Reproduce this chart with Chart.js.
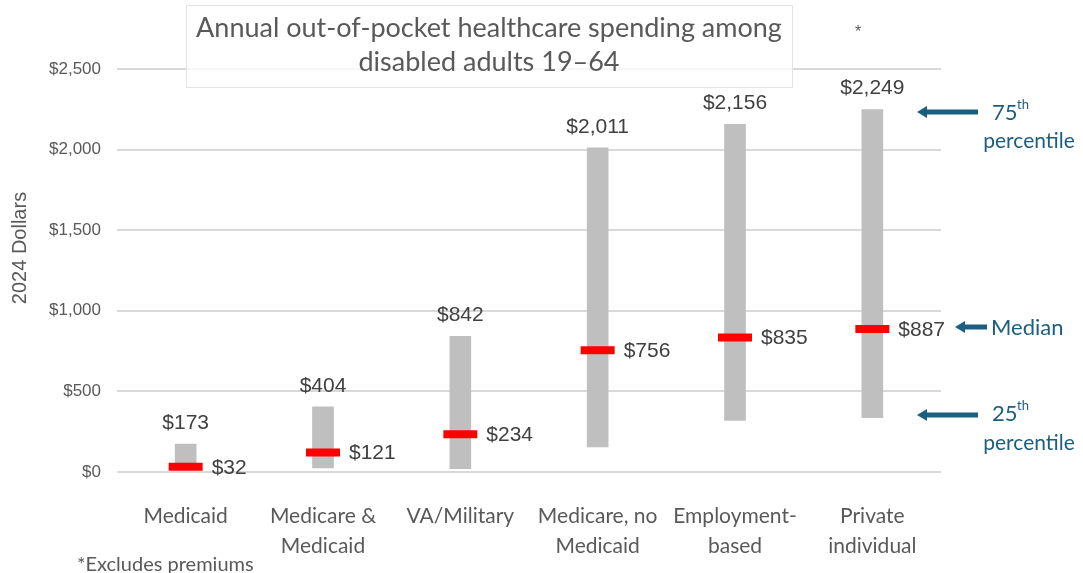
<!DOCTYPE html>
<html>
  <head>
    <title>Out-of-pocket spending</title>
    <script src="https://cdn.jsdelivr.net/npm/chart.js"></script>
    <style>
      html, body { margin: 0; padding: 0; background: #fff; }
      .wrap { width: 1083px; height: 573px; position: relative; }
    </style>
  </head>
  <body>
    <div class="wrap"><canvas id="spendChart" width="1083" height="573"></canvas></div>

    <script>
      const categories = [
        ["Medicaid"],
        ["Medicare &", "Medicaid"],
        ["VA/Military"],
        ["Medicare, no", "Medicaid"],
        ["Employment-", "based"],
        ["Private", "individual"],
      ];
      const p25 = [18, 25, 20, 155, 320, 337];
      const p75 = [173, 404, 842, 2011, 2156, 2249];
      const median = [32, 121, 234, 756, 835, 887];
      const yTicks = [0, 500, 1000, 1500, 2000, 2500];

      const GREY_TEXT = "#595959";
      const DARK_TEXT = "#404040";
      const BLUE = "#1a5f80";
      const money = (v) => "$" + v.toLocaleString("en-US");

      // value labels, title box, axis title and the legend arrows on the right
      const extras = {
        id: "extras",
        afterDraw(chart) {
          const ctx = chart.ctx;
          const y = chart.scales.y;
          const bars = chart.getDatasetMeta(0).data;
          ctx.save();

          ctx.font = "21px 'Liberation Sans', Arial, sans-serif";
          ctx.fillStyle = DARK_TEXT;
          ctx.textBaseline = "middle";
          bars.forEach((bar, i) => {
            ctx.textAlign = "center";
            ctx.fillText(money(p75[i]), bar.x, y.getPixelForValue(p75[i]) - 21);
            ctx.textAlign = "left";
            ctx.fillText(money(median[i]), bar.x + 26, y.getPixelForValue(median[i]) + 1);
          });

          // title box
          ctx.fillStyle = "rgba(255,255,255,0.75)";
          ctx.fillRect(186, 5, 606, 82);
          ctx.strokeStyle = "#e3e3e3";
          ctx.lineWidth = 1;
          ctx.strokeRect(186.5, 5.5, 606, 82);
          ctx.fillStyle = GREY_TEXT;
          ctx.textAlign = "center";
          ctx.font = "27px Lato, sans-serif";
          ctx.fillText("Annual out-of-pocket healthcare spending among", 489, 28);
          ctx.fillText("disabled adults 19\u201364", 489, 62);
          ctx.font = "16px 'Liberation Sans', Arial, sans-serif";
          ctx.fillText("*", 858, 33);

          // y axis title
          ctx.save();
          ctx.translate(20, 248);
          ctx.rotate(-Math.PI / 2);
          ctx.font = "20px 'Liberation Sans', Arial, sans-serif";
          ctx.fillText("2024 Dollars", 0, 0);
          ctx.restore();

          // footnote
          ctx.textAlign = "left";
          ctx.font = "20px Lato, sans-serif";
          ctx.fillText("*Excludes premiums", 77, 565);

          // legend arrows
          const arrow = (x1, x2, yy) => {
            ctx.strokeStyle = BLUE;
            ctx.fillStyle = BLUE;
            ctx.lineWidth = 5;
            ctx.beginPath();
            ctx.moveTo(x1 + 8, yy);
            ctx.lineTo(x2, yy);
            ctx.stroke();
            ctx.beginPath();
            ctx.moveTo(x1, yy);
            ctx.lineTo(x1 + 10, yy - 6);
            ctx.lineTo(x1 + 10, yy + 6);
            ctx.closePath();
            ctx.fill();
          };
          arrow(917, 978, 112);
          arrow(955, 987, 327);
          arrow(917, 978, 415);

          ctx.fillStyle = BLUE;
          ctx.font = "22px Lato, sans-serif";
          ctx.textAlign = "left";
          ctx.fillText("75", 992, 113);
          ctx.fillText("25", 992, 414);
          ctx.fillText("Median", 991, 328);
          ctx.font = "13px Lato, sans-serif";
          ctx.fillText("th", 1017, 105);
          ctx.fillText("th", 1017, 406);
          ctx.font = "21px Lato, sans-serif";
          ctx.textAlign = "center";
          ctx.fillText("percentile", 1029, 141);
          ctx.fillText("percentile", 1029, 443);

          ctx.restore();
        },
      };

      new Chart(document.getElementById("spendChart"), {
        type: "bar",
        data: {
          labels: categories,
          datasets: [
            {
              label: "25th\u201375th percentile",
              data: p25.map((lo, i) => [lo, p75[i]]),
              backgroundColor: "#bfbfbf",
              barThickness: 21,
              order: 2,
            },
            {
              type: "line",
              label: "Median",
              data: median,
              showLine: false,
              pointStyle: "line",
              pointRadius: 17,
              pointHoverRadius: 17,
              pointBorderWidth: 8,
              pointBorderColor: "#ff0000",
              borderColor: "#ff0000",
              order: 1,
            },
          ],
        },
        options: {
          responsive: false,
          animation: false,
          events: [],
          layout: { padding: { left: 0, top: 69, right: 142, bottom: 0 } },
          plugins: {
            legend: { display: false },
            tooltip: { enabled: false },
          },
          scales: {
            x: {
              grid: { display: false },
              border: { display: false },
              ticks: {
                color: GREY_TEXT,
                padding: 21,
                font: { family: "Lato", size: 21, lineHeight: 1.45 },
                maxRotation: 0,
              },
              afterFit: (s) => { s.height = 101; },
            },
            y: {
              min: 0,
              max: 2500,
              afterBuildTicks: (s) => { s.ticks = yTicks.map((v) => ({ value: v })); },
              grid: { color: "#d9d9d9", lineWidth: 2, drawTicks: false },
              border: { display: false },
              ticks: {
                color: GREY_TEXT,
                padding: 16,
                font: { family: "'Liberation Sans', Arial", size: 17 },
                callback: (v) => money(v),
              },
              afterFit: (s) => { s.width = 117; },
            },
          },
        },
        plugins: [extras],
      });
    </script>
  </body>
</html>
